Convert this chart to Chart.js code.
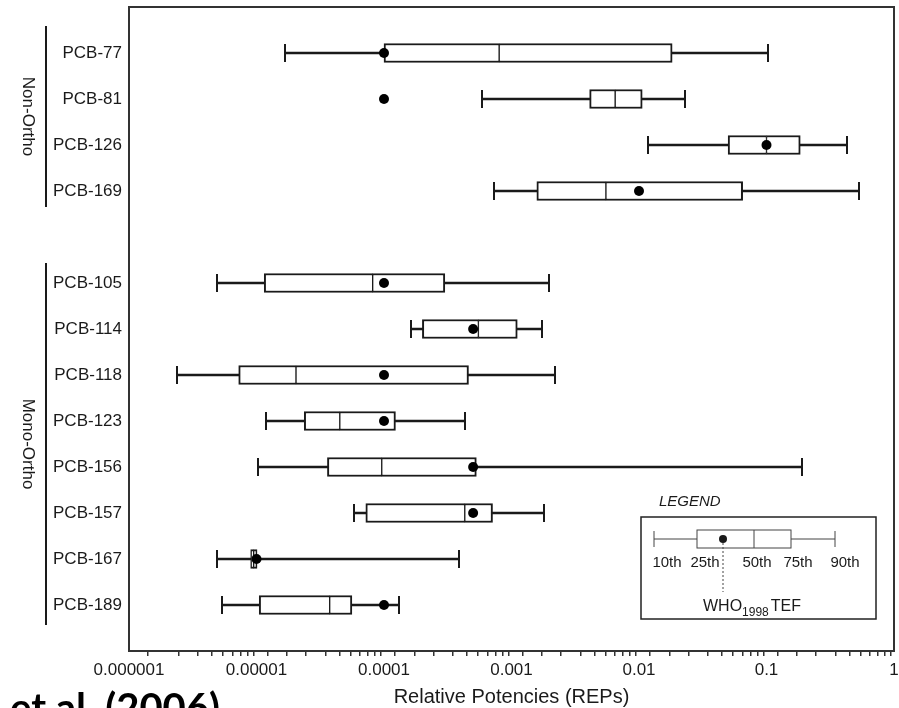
<!DOCTYPE html>
<html>
<head>
<meta charset="utf-8">
<script src="https://cdn.jsdelivr.net/npm/chart.js@4"></script>
<style>
  html, body { margin: 0; padding: 0; background: #fff; }
  #wrap { width: 899px; height: 708px; position: relative; }
</style>
</head>
<body>
<div id="wrap"><canvas id="rep-chart"></canvas></div>
<script>
// Congeneres por grupo
const nonOrtho = ['PCB-77', 'PCB-81', 'PCB-126', 'PCB-169'];
const monoOrtho = ['PCB-105', 'PCB-114', 'PCB-118', 'PCB-123', 'PCB-156', 'PCB-157', 'PCB-167', 'PCB-189'];
const compounds = nonOrtho.concat(monoOrtho);

// Percentis e TEF OMS 1998
const p10 = [1.66e-5, 5.9e-4, 0.0118, 7.3e-4, 4.9e-6, 1.63e-4, 2.4e-6, 1.18e-5, 1.03e-5, 5.85e-5, 4.9e-6, 5.4e-6];
const p25 = [1.0e-4, 4.1e-3, 0.050, 1.58e-3, 1.15e-5, 2.0e-4, 7.25e-6, 2.37e-5, 3.6e-5, 7.2e-5, 9.0e-6, 1.05e-5];
const p50 = [8.0e-4, 6.5e-3, 0.10, 5.5e-3, 8.15e-5, 5.5e-4, 2.04e-5, 4.5e-5, 9.6e-5, 4.3e-4, 9.5e-6, 3.75e-5];
const p75 = [0.0182, 0.0106, 0.184, 0.065, 3.0e-4, 1.11e-3, 4.6e-4, 1.23e-4, 5.3e-4, 7.1e-4, 1.01e-5, 5.6e-5];
const p90 = [0.102, 0.0231, 0.43, 0.535, 1.97e-3, 1.73e-3, 2.19e-3, 4.3e-4, 0.19, 1.81e-3, 3.9e-4, 1.32e-4];
const tef = [1e-4, 1e-4, 0.1, 0.01, 1e-4, 5e-4, 1e-4, 1e-4, 5e-4, 5e-4, 1e-5, 1e-4];

// Rotulos do eixo x
const tickLabels = ['0.000001', '0.00001', '0.0001', '0.001', '0.01', '0.1', '1'];

// linhas do eixo y (com espacos vazios entre os grupos)
const rows = [''].concat(nonOrtho, [''], monoOrtho, ['']);

const FONT = "'Liberation Sans', Arial, sans-serif";
const INK = '#1a1a1a';

const range = (a, b) => compounds.map((c, i) => ({ y: c, x: [a[i], b[i]] }));
const points = (arr) => compounds.map((c, i) => ({ x: arr[i], y: c }));

// traco vertical dos bigodes (imagem, para nao inflar o padding do layout)
const cap = document.createElement('canvas');
cap.width = 2;
cap.height = 18;
const capCtx = cap.getContext('2d');
capCtx.fillStyle = INK;
capCtx.fillRect(0, 0, 2, 18);

const frame = {
  id: 'frame',
  beforeDatasetsDraw(chart) {
    const { ctx, chartArea: a } = chart;
    ctx.save();
    ctx.strokeStyle = '#333';
    ctx.lineWidth = 2;
    ctx.strokeRect(a.left, a.top, a.right - a.left, a.bottom - a.top);
    ctx.restore();
  },
  afterDraw(chart) {
    const { ctx } = chart;
    const y = chart.scales.y;
    ctx.save();
    ctx.fillStyle = INK;
    ctx.strokeStyle = INK;

    // grupos
    const group = (name, first, last, up, down) => {
      const y0 = y.getPixelForValue(first) - up;
      const y1 = y.getPixelForValue(last) + down;
      ctx.lineWidth = 2;
      ctx.beginPath();
      ctx.moveTo(46, y0);
      ctx.lineTo(46, y1);
      ctx.stroke();
      ctx.save();
      ctx.translate(28, (y0 + y1) / 2);
      ctx.rotate(Math.PI / 2);
      ctx.font = '17px ' + FONT;
      ctx.textAlign = 'center';
      ctx.textBaseline = 'middle';
      ctx.fillText(name, 0, 0);
      ctx.restore();
    };
    group('Non-Ortho', 1, nonOrtho.length, 27, 16);
    group('Mono-Ortho', nonOrtho.length + 2, rows.length - 2, 20, 20);

    // legenda
    ctx.font = 'italic 15px ' + FONT;
    ctx.textAlign = 'left';
    ctx.textBaseline = 'middle';
    ctx.fillText('LEGEND', 659, 502);
    ctx.lineWidth = 1.5;
    ctx.strokeStyle = '#222';
    ctx.strokeRect(641, 517, 235, 102);
    ctx.lineWidth = 1;
    ctx.strokeStyle = '#444';
    ctx.beginPath();
    ctx.moveTo(654, 539); ctx.lineTo(697, 539);
    ctx.moveTo(791, 539); ctx.lineTo(835, 539);
    ctx.moveTo(654, 531); ctx.lineTo(654, 547);
    ctx.moveTo(835, 531); ctx.lineTo(835, 547);
    ctx.moveTo(754, 530); ctx.lineTo(754, 548);
    ctx.stroke();
    ctx.strokeRect(697, 530, 94, 18);
    ctx.setLineDash([2, 2]);
    ctx.beginPath();
    ctx.moveTo(723, 539); ctx.lineTo(723, 592);
    ctx.stroke();
    ctx.setLineDash([]);
    ctx.beginPath();
    ctx.arc(723, 539, 4, 0, Math.PI * 2);
    ctx.fill();
    ctx.font = '15px ' + FONT;
    ctx.textAlign = 'center';
    [['10th', 667], ['25th', 705], ['50th', 757], ['75th', 798], ['90th', 845]].forEach(([t, x]) => {
      ctx.fillText(t, x, 563);
    });
    ctx.textAlign = 'left';
    ctx.textBaseline = 'alphabetic';
    ctx.font = '16px ' + FONT;
    ctx.fillText('WHO', 703, 611);
    let x = 703 + ctx.measureText('WHO').width;
    ctx.font = '12px ' + FONT;
    ctx.fillText('1998', x, 616);
    x += ctx.measureText('1998').width + 2;
    ctx.font = '16px ' + FONT;
    ctx.fillText('TEF', x, 611);

    // citacao (cortada na borda)
    ctx.font = "bold 40px Lato, 'Open Sans', sans-serif";
    ctx.textAlign = 'right';
    ctx.fillStyle = '#000';
    ctx.fillText('Haws et al. (2006)', 220, 722);
    ctx.restore();
  }
};

const ctx = document.getElementById('rep-chart').getContext('2d');
const chart = new Chart(ctx, {
  type: 'bar',
  data: {
    labels: rows,
    datasets: [
      {
        // bigodes 10-90
        indexAxis: 'y',
        data: range(p10, p90),
        backgroundColor: INK,
        borderWidth: 0,
        barThickness: 2,
        grouped: false,
        order: 4
      },
      {
        indexAxis: 'y',
        data: range(p25, p50),
        backgroundColor: '#fff',
        borderColor: INK,
        borderWidth: { top: 2, bottom: 2, left: 2, right: 1 },
        borderSkipped: false,
        barThickness: 19,
        grouped: false,
        order: 3
      },
      {
        indexAxis: 'y',
        data: range(p50, p75),
        backgroundColor: '#fff',
        borderColor: INK,
        borderWidth: { top: 2, bottom: 2, left: 1, right: 2 },
        borderSkipped: false,
        barThickness: 19,
        grouped: false,
        order: 3
      },
      {
        type: 'scatter',
        data: points(p10).concat(points(p90)),
        pointStyle: cap,
        radius: 1,
        hoverRadius: 1,
        borderWidth: 0,
        order: 2
      },
      {
        type: 'scatter',
        data: points(tef),
        pointStyle: 'circle',
        radius: 5,
        hoverRadius: 5,
        backgroundColor: '#000',
        borderColor: '#000',
        borderWidth: 0,
        order: 1
      }
    ]
  },
  options: {
    responsive: true,
    maintainAspectRatio: false,
    animation: false,
    layout: { padding: { top: 7, right: 5, left: 0, bottom: 0 } },
    plugins: {
      legend: { display: false },
      tooltip: { enabled: false }
    },
    scales: {
      x: {
        type: 'logarithmic',
        min: 1e-6,
        max: 1,
        afterFit: (s) => {
          s.height = 57;
          s.paddingLeft = 0;
          s.paddingRight = 0;
        },
        grid: {
          drawOnChartArea: false,
          drawTicks: true,
          tickLength: 5,
          color: '#333',
          lineWidth: 1.5
        },
        ticks: {
          autoSkip: false,
          maxRotation: 0,
          minRotation: 0,
          padding: 4,
          color: INK,
          font: { family: FONT, size: 17 },
          callback: function(value) {
            const e = Math.log10(value);
            const r = Math.round(e);
            return Math.abs(e - r) < 1e-6 ? tickLabels[r + 6] : '';
          }
        },
        title: {
          display: true,
          text: 'Relative Potencies (REPs)',
          color: INK,
          font: { family: FONT, size: 20, lineHeight: 1 },
          padding: { top: 0, bottom: 1 }
        }
      },
      y: {
        type: 'category',
        labels: rows,
        offset: false,
        afterFit: (s) => {
          s.width = 129;
          s.paddingTop = 0;
          s.paddingBottom = 0;
        },
        grid: { display: false, drawTicks: false },
        ticks: {
          autoSkip: false,
          padding: 7,
          color: INK,
          font: { family: FONT, size: 17, lineHeight: 0.6 }
        }
      }
    }
  },
  plugins: [frame]
});
</script>
</body>
</html>
